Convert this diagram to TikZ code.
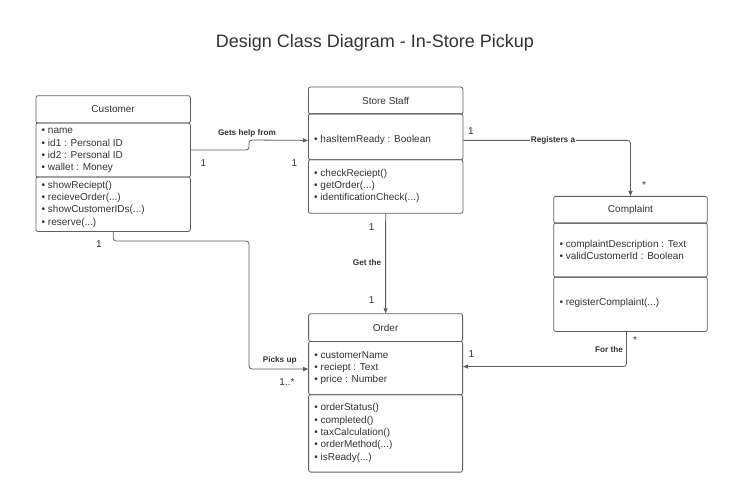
\documentclass[tikz,border=0pt]{standalone}
\usepackage{fontspec}
\setmainfont{Liberation Sans}
\usetikzlibrary{arrows.meta,calc}
\definecolor{lc}{HTML}{5E5E5E}
\definecolor{tc}{HTML}{333333}
\begin{document}
\begin{tikzpicture}[x=1pt,y=-1pt,
 box/.style={draw=lc, line width=0.8pt, rounded corners=2pt, anchor=north west, inner sep=0pt, text=tc, font=\fontsize{10}{12}\selectfont},
 lst/.style={anchor=west, align=left, inner sep=0pt, text=tc, font=\fontsize{10}{12.3}\selectfont},
 conn/.style={draw=lc, line width=0.8pt, rounded corners=3pt, -{Triangle[length=5pt,width=4pt]}},
 lbl/.style={text=tc, font=\bfseries\fontsize{8.2}{10}\selectfont, inner sep=1pt},
 mult/.style={text=tc, font=\fontsize{10}{12}\selectfont, inner sep=0pt}]
\useasboundingbox (0,0) rectangle (750,500);

\node[text=tc, font=\fontsize{18}{22}\selectfont, inner sep=0pt] (title) at (375,43) {Design Class Diagram - In-Store Pickup};

% Customer
\node[box, minimum width=154.5pt, minimum height=27.4pt] (cusH) at (35.5,95.3) {Customer};
\node[box, minimum width=154.5pt, minimum height=54pt] (cusA) at (35.5,122.7) {};
\node[box, minimum width=154.5pt, minimum height=54.3pt] (cusM) at (35.5,176.7) {};
\node[lst] (cusAt) at ([xshift=6pt,yshift=-0.6pt]cusA.west) {• name\\• id1 : Personal ID\\• id2 : Personal ID\\• wallet : Money};
\node[lst] (cusMt) at ([xshift=6pt]cusM.west) {• showReciept()\\• recieveOrder(...)\\• showCustomerIDs(...)\\• reserve(...)};

% Store Staff
\node[box, minimum width=154.5pt, minimum height=26.8pt] (stH) at (308,86.7) {Store Staff};
\node[box, minimum width=154.5pt, minimum height=45.8pt] (stA) at (308,113.5) {};
\node[box, minimum width=154.5pt, minimum height=53.5pt] (stM) at (308,159.3) {};
\node[lst] (stAt) at ([xshift=6pt,yshift=-3.6pt]stA.west) {• hasItemReady : Boolean};
\node[lst] (stMt) at ([xshift=6pt,yshift=0.6pt]stM.west) {• checkReciept()\\• getOrder(...)\\• identificationCheck(...)};

% Complaint
\node[box, minimum width=153.6pt, minimum height=26.7pt] (coH) at (553.3,196) {Complaint};
\node[box, minimum width=153.6pt, minimum height=54pt] (coA) at (553.3,222.7) {};
\node[box, minimum width=153.6pt, minimum height=54.3pt] (coM) at (553.3,276.7) {};
\node[lst] (coAt) at ([xshift=6pt,yshift=0.5pt]coA.west) {• complaintDescription : Text\\• validCustomerId : Boolean};
\node[lst] (coMt) at ([xshift=6pt,yshift=1pt]coM.west) {• registerComplaint(...)};

% Order
\node[box, minimum width=154pt, minimum height=27.7pt] (orH) at (308.2,313.3) {Order};
\node[box, minimum width=154pt, minimum height=53.3pt] (orA) at (308.2,341) {};
\node[box, minimum width=154pt, minimum height=77.4pt] (orM) at (308.2,394.3) {};
\node[lst] (orAt) at ([xshift=6pt]orA.west) {• customerName\\• reciept : Text\\• price : Number};
\node[lst] (orMt) at ([xshift=6pt,yshift=0.5pt]orM.west) {• orderStatus()\\• completed()\\• taxCalculation()\\• orderMethod(...)\\• isReady(...)};

% connectors
\draw[conn] (cusA.east) -| (249,140) -- (stA.west |- stAt.west);
\draw[conn] (stA.east |- stAt.east) -| (coH.north);
\draw[conn] (stM.south) -- (orH.north);
\draw[conn] (cusM.south) |- (249,241) |- ([yshift=-1pt]orA.west);
\draw[conn] ([xshift=-4pt]coM.south) |- ([yshift=1.5pt]orA.east);

% labels
\node[lbl] (l1) at (247,133.3) {Gets help from};
\node[lbl, fill=white] (l2) at (553,140) {Registers a};
\node[lbl] (l3) at (367,262.7) {Get the};
\node[lbl] (l4) at (279.7,360.7) {Picks up};
\node[lbl] (l5) at (609,350) {For the};

% multiplicities
\node[mult] (m1) at (203.3,162.7) {1};
\node[mult] (m2) at (294.3,162.7) {1};
\node[mult] (m3) at (471,130.7) {1};
\node[mult] (m4) at (644,185) {*};
\node[mult] (m5) at (371.7,226.7) {1};
\node[mult] (m6) at (371.7,300) {1};
\node[mult] (m7) at (99,244) {1};
\node[mult] (m8) at (287,382) {1..*};
\node[mult] (m9) at (471.3,354) {1};
\node[mult] (m10) at (635,340) {*};
\end{tikzpicture}
\end{document}
